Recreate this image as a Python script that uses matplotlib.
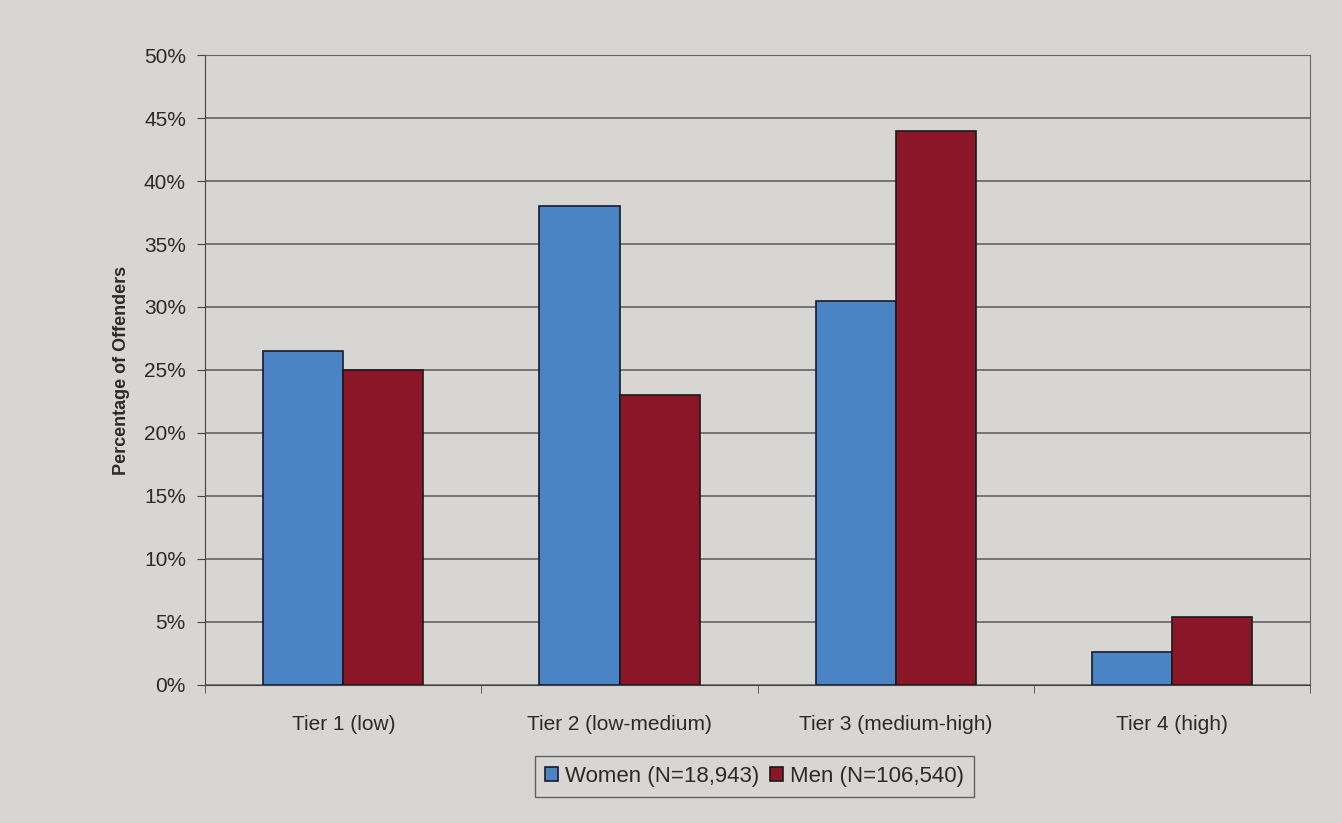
import numpy as np
import matplotlib.pyplot as plt

categories = ["Tier 1 (low)", "Tier 2 (low-medium)", "Tier 3 (medium-high)", "Tier 4 (high)"]
women = [26.5, 38.0, 30.5, 2.6]
men = [25.0, 23.0, 44.0, 5.4]
series_labels = ["Women (N=18,943)", "Men (N=106,540)"]

bg = "#d8d6d2"
plt.rcParams["font.family"] = ["Liberation Sans", "DejaVu Sans"]

fig = plt.figure(figsize=(13.42, 8.23), dpi=100, facecolor=bg)
ax = fig.add_axes([0.153, 0.168, 0.823, 0.765], facecolor=bg)

x = np.arange(len(categories))
w = 0.29
ax.bar(x - w / 2, women, w, color="#4a84c4", edgecolor="#1a1a2a", linewidth=1.2,
       label=series_labels[0], zorder=3)
ax.bar(x + w / 2, men, w, color="#8a1628", edgecolor="#1a1a1a", linewidth=1.2,
       label=series_labels[1], zorder=3)

ax.set_xlim(-0.5, len(categories) - 0.5)
ax.set_ylim(0, 50)
ax.set_yticks(np.arange(0, 51, 5))
ax.set_yticklabels([f"{v}%" for v in range(0, 51, 5)], fontsize=15, color="#2a2a2a")
ax.set_xticks(x)
ax.set_xticklabels(categories, fontsize=15, color="#2a2a2a")
ax.set_xticks(np.arange(-0.5, len(categories), 1), minor=True)
ax.tick_params(axis="x", which="major", length=0, pad=22)
ax.tick_params(axis="x", which="minor", length=6, color="#444444")
ax.tick_params(axis="y", length=6, color="#444444", pad=8)

ax.grid(axis="y", color="#5a5a5a", linewidth=1.1, zorder=0)
for side in ["top", "right"]:
    ax.spines[side].set_color("#666666")
ax.spines["left"].set_color("#444444")
ax.spines["bottom"].set_color("#444444")

ax.set_ylabel("Percentage of Offenders", fontsize=13, fontweight="bold", color="#2a2a2a", labelpad=10)

leg = fig.legend(loc="lower center", bbox_to_anchor=(0.562, 0.018), ncol=2, fontsize=16,
                 frameon=True, fancybox=False, edgecolor="#444444", facecolor=bg,
                 handlelength=0.6, handleheight=0.6, handletextpad=0.3, columnspacing=0.5,
                 borderpad=0.45)
for t in leg.get_texts():
    t.set_color("#2a2a2a")

fig.savefig("out.png", dpi=100, facecolor=bg)
